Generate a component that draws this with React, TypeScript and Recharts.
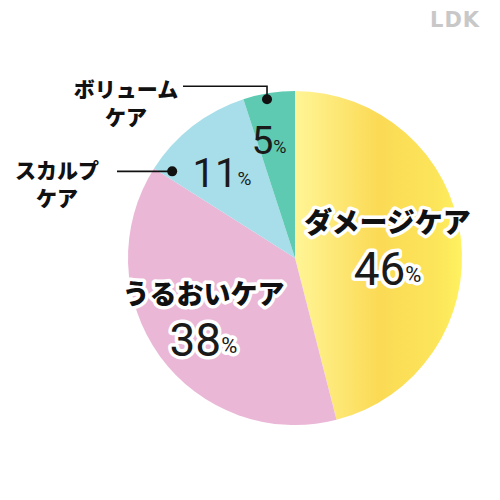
import React from 'react'
import { PieChart, Pie, Cell } from 'recharts'

const categories = ['ダメージケア', 'うるおいケア', 'スカルプケア', 'ボリュームケア']
const shares = [46, 38, 11, 5]
const nameLines = [['ダメージケア'], ['うるおいケア'], ['スカルプ', 'ケア'], ['ボリューム', 'ケア']]

const colors = ['url(#damageGrad)', '#EAB7D7', '#A8DEE9', '#5FCAB2']

const data = categories.map((name, i) => ({ name, value: shares[i] }))

// where each slice's text sits: fraction of radius + angle nudge
const inner = [
  { f: 0.56, da: 1, size: 46, pct: 22, name: 28 },
  { f: 0.65, da: -3.5, size: 46, pct: 22, name: 27 },
  { f: 0.67, da: 3, size: 40, pct: 19, name: 0 },
  { f: 0.72, da: 3.5, size: 39, pct: 18, name: 0 },
]

const RAD = Math.PI / 180
const JP = '"Noto Sans CJK JP", sans-serif'
const NUM = 'Roboto, "Noto Sans", sans-serif'

const renderLabel = (props: any) => {
  const { cx, cy, midAngle, outerRadius, index } = props
  const pt = (f: number, a: number) => ({
    x: cx + outerRadius * f * Math.cos(-a * RAD),
    y: cy + outerRadius * f * Math.sin(-a * RAD),
  })
  const cfg = inner[index]
  const c = pt(cfg.f, midAngle + cfg.da)
  const halo = index < 2
  const haloProps = halo
    ? { stroke: '#fff', strokeWidth: 7, strokeLinejoin: 'round' as const, paintOrder: 'stroke' }
    : {}
  const numY = halo ? c.y + 24 : c.y
  const items: React.ReactNode[] = []
  if (halo) {
    items.push(
      <text key="n" x={c.x} y={c.y - 24} textAnchor="middle" dominantBaseline="central"
        fontFamily={JP} fontWeight={900} fontSize={cfg.name} fill="#111" {...haloProps}>
        {nameLines[index][0]}
      </text>
    )
  }
  items.push(
    <text key="v" x={c.x} y={numY} textAnchor="middle" dominantBaseline="central"
      fontFamily={NUM} fontWeight={400} fill="#1a1a1a" {...haloProps}>
      <tspan fontSize={cfg.size}>{shares[index]}</tspan>
      <tspan fontSize={cfg.pct} dy={5}>%</tspan>
    </text>
  )

  const twoLines = (x: number, y: number) => (
    <text key="t" x={x} y={y} textAnchor="middle" dominantBaseline="central"
      fontFamily={JP} fontWeight={900} fontSize={21} fill="#111">
      <tspan x={x}>{nameLines[index][0]}</tspan>
      <tspan x={x} dy={28}>{nameLines[index][1]}</tspan>
    </text>
  )

  if (index === 3) {
    const d = pt(0.965, midAngle + 1)
    const topY = d.y - 13
    const endX = 183
    items.push(
      <polyline key="l" points={`${d.x},${d.y} ${d.x},${topY} ${endX},${topY}`} fill="none" stroke="#111" strokeWidth={1.6} />,
      <circle key="d" cx={d.x} cy={d.y} r={5} fill="#111" />,
      twoLines(endX - 57, topY + 2)
    )
  }
  if (index === 2) {
    const d = pt(0.9, midAngle + 17)
    const endX = 117
    items.push(
      <line key="l" x1={d.x} y1={d.y} x2={endX} y2={d.y} stroke="#111" strokeWidth={1.6} />,
      <circle key="d" cx={d.x} cy={d.y} r={5} fill="#111" />,
      twoLines(endX - 60, d.y - 2)
    )
  }
  return <g key={`lab-${index}`}>{items}</g>
}

export default function App() {
  return (
    <div style={{ position: 'absolute', left: 0, top: 0, width: 500, height: 500, background: '#fff' }}>
      <div style={{ position: 'absolute', left: 430, top: 8, fontFamily: '"DejaVu Sans", sans-serif', fontWeight: 700, fontSize: 21, lineHeight: '24px', color: '#C8C8C8', letterSpacing: 1 }}>
        LDK
      </div>
      <PieChart width={500} height={500} margin={{ top: 0, right: 0, bottom: 0, left: 0 }}>
        <defs>
          <linearGradient id="damageGrad" x1="0" y1="0" x2="1" y2="0">
            <stop offset="0%" stopColor="#FFF596" />
            <stop offset="50%" stopColor="#FBDA55" />
            <stop offset="85%" stopColor="#FCE55A" />
            <stop offset="100%" stopColor="#FFF260" />
          </linearGradient>
        </defs>
        <Pie
          data={data}
          dataKey="value"
          nameKey="name"
          cx={295}
          cy={258}
          outerRadius={167}
          startAngle={90}
          endAngle={-270}
          stroke="none"
          label={renderLabel}
          labelLine={false}
          isAnimationActive={false}
        >
          {data.map((d, i) => (
            <Cell key={d.name} fill={colors[i]} />
          ))}
        </Pie>
      </PieChart>
    </div>
  )
}
